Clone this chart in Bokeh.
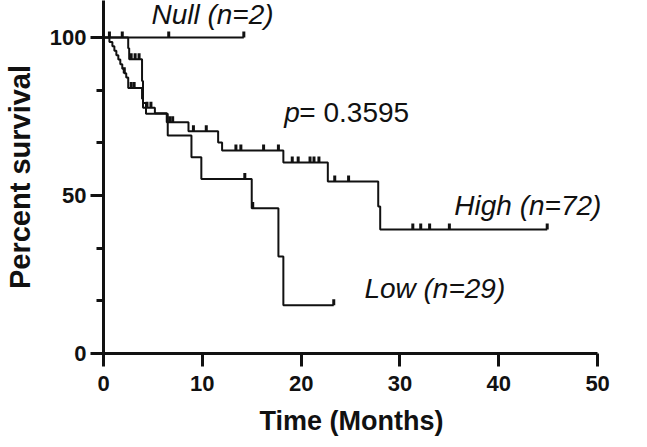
import numpy as np
from bokeh.plotting import figure
from bokeh.models import Range1d, SingleIntervalTicker, Title
from bokeh.core.properties import value
from bokeh.embed import file_html
from bokeh.resources import INLINE

# ---- data ----
high_time = [0, 0.6, 0.9, 1.1, 1.3, 1.5, 1.7, 1.9, 2.1, 2.3, 2.5, 3.9, 4.0, 5.2, 6.4,
             8.6, 11.6, 12.0, 18.2, 22.7, 27.8, 28.0, 44.9]
high_surv = [100, 98.6, 97.2, 95.8, 94.4, 93.0, 91.5, 90.1, 88.7, 87.3, 84.0, 80.6, 77.8,
             76.0, 73.2, 70.3, 66.8, 64.2, 60.4, 54.4, 46.5, 39.2, 39.2]
high_cens = [2.1, 2.8, 3.1, 4.4, 4.8, 6.7, 7.0, 9.1, 10.4, 13.4, 13.9, 16.2, 17.7,
             19.1, 19.7, 20.9, 21.3, 21.8, 23.4, 24.8, 31.3, 32.1, 33.0, 35.0, 44.9]

low_time = [0, 2.5, 2.6, 3.9, 4.0, 4.3, 6.5, 8.9, 9.9, 15.0, 17.7, 18.2, 23.3]
low_surv = [100, 96.6, 93.1, 86.2, 79.3, 75.9, 69.0, 62.1, 55.2, 46.0, 30.7, 15.3, 15.3]
low_cens = [0.6, 1.9, 2.8, 3.2, 3.6, 14.3, 15.1, 23.3]

null_time = [0, 14.2]
null_surv = [100, 100]
null_cens = [6.6, 14.2]

x_ticks = [0, 10, 20, 30, 40, 50]
y_ticks = [0, 50, 100]

FONT = "Liberation Sans"
INK = "#111111"

# x range extends past 50 so the right-hand annotation is not clipped;
# the axis itself is bounded to 0..50
p = figure(width=647, height=447, x_range=Range1d(0, 54.34), y_range=Range1d(0, 111.7),
           output_backend="svg", toolbar_location=None,
           min_border_left=102, min_border_right=7, min_border_top=0, min_border_bottom=94)
p.outline_line_color = None
p.grid.visible = False
p.background_fill_color = "white"
p.border_fill_color = "white"

p.xaxis.ticker = SingleIntervalTicker(interval=10, num_minor_ticks=0)
p.yaxis.ticker = SingleIntervalTicker(interval=50, num_minor_ticks=3)
p.xaxis.bounds = (x_ticks[0], x_ticks[-1])

for ax in (p.xaxis[0], p.yaxis[0]):
    ax.axis_line_width = 3
    ax.axis_line_color = INK
    ax.major_tick_line_width = 3
    ax.major_tick_line_color = INK
    ax.major_tick_in = 0
    ax.major_tick_out = 13
    ax.minor_tick_line_width = 3
    ax.minor_tick_line_color = INK
    ax.minor_tick_in = 0
    ax.minor_tick_out = 7
    ax.major_label_text_font = FONT
    ax.major_label_text_font_style = "bold"
    ax.major_label_text_font_size = "22px"
    ax.major_label_text_color = INK
    ax.axis_label_text_font = FONT
    ax.axis_label_text_font_style = "bold"
    ax.axis_label_text_color = INK

p.yaxis.axis_label_text_font_size = "29px"
p.yaxis.axis_label = "Percent survival"
p.xaxis.major_label_standoff = 9
p.yaxis.major_label_standoff = 4
p.yaxis.axis_label_standoff = 11

# x title as a below-panel title, placed under the 0..50 axis (not the wider frame)
p.add_layout(Title(text="Time (Months)", align="left", offset=156, standoff=21,
                   text_font=FONT, text_font_style="bold", text_font_size="27px",
                   text_color=INK), "below")


def step_value(times, surv, t):
    idx = np.searchsorted(np.array(times), np.array(t), side="right") - 1
    return np.array(surv)[idx]


for times, surv, cens in ((null_time, null_surv, null_cens),
                          (high_time, high_surv, high_cens),
                          (low_time, low_surv, low_cens)):
    p.step(times, surv, mode="after", line_width=2, line_color=INK)
    cy = step_value(times, surv, cens)
    p.segment(x0=cens, y0=cy, x1=cens, y1=cy + 1.9, line_width=3, line_color=INK,
              line_cap="butt")

# ---- annotations ----
p.text(x=[4.85], y=[107.3], text=["Null (n=2)"], text_font=value(FONT),
       text_font_style="italic", text_font_size="28px", text_baseline="middle",
       text_align="left", text_color=INK)
p.text(x=[35.5], y=[46.8], text=["High (n=72)"], text_font=value(FONT),
       text_font_style="italic", text_font_size="28px", text_baseline="middle",
       text_align="left", text_color=INK)
p.text(x=[26.4], y=[20.6], text=["Low (n=29)"], text_font=value(FONT),
       text_font_style="italic", text_font_size="28px", text_baseline="middle",
       text_align="left", text_color=INK)
p.text(x=[18.3], y=[76.3], text=["p"], text_font=value(FONT),
       text_font_style="italic", text_font_size="28px", text_baseline="middle",
       text_align="left", text_color=INK)
p.text(x=[18.3], y=[76.3], x_offset=15, text=["= 0.3595"], text_font=value(FONT),
       text_font_style="normal", text_font_size="28px", text_baseline="middle",
       text_align="left", text_color=INK)

open("out.html", "w").write(file_html(p, INLINE))
